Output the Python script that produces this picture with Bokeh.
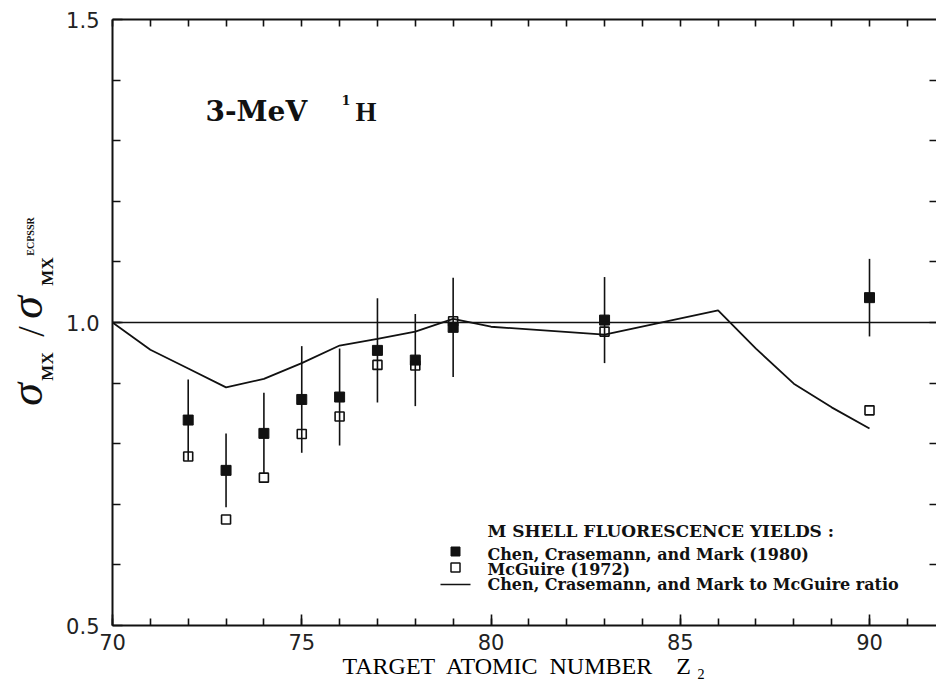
from math import pi

import numpy as np
from bokeh.plotting import figure
from bokeh.layouts import row
from bokeh.models import Range1d, FixedTicker, LinearAxis, Label, Span
from bokeh.embed import file_html
from bokeh.resources import INLINE

# ---- data -------------------------------------------------------------
# measured M-shell X-ray cross sections divided by ECPSSR predictions
z_measured = [72, 73, 74, 75, 76, 77, 78, 79, 83, 90]
ratio_chen = [0.839, 0.756, 0.817, 0.873, 0.877, 0.954, 0.938, 0.992, 1.004, 1.041]
chen_error = [0.067, 0.061, 0.067, 0.088, 0.080, 0.086, 0.076, 0.082, 0.071, 0.064]
ratio_mcguire = [0.779, 0.675, 0.744, 0.816, 0.845, 0.930, 0.929, 1.002, 0.985, 0.855]

# ratio of the two fluorescence-yield sets
z_yield = [70, 71, 72, 73, 74, 75, 76, 77, 78, 79, 80, 83, 86, 87, 88, 89, 90]
yield_ratio = [1.000, 0.955, 0.924, 0.893, 0.907, 0.933, 0.962, 0.973, 0.985,
               1.006, 0.993, 0.980, 1.020, 0.957, 0.899, 0.860, 0.825]

x_major = [70, 75, 80, 85, 90]
x_minor = list(range(70, 92))
y_major = [0.5, 1.0, 1.5]
y_minor = [0.6, 0.7, 0.8, 0.9, 1.0, 1.1, 1.2, 1.3, 1.4]
y_tick_text = {0.5: "0.5", 1.0: "1.0", 1.5: "1.5"}

NB = "\u00a0"
x_title = f"TARGET{NB} ATOMIC{NB} NUMBER{NB}{NB}{NB} Z{NB}\u2082"
legend_title = "M  SHELL  FLUORESCENCE  YIELDS  :"
legend_labels = ["Chen, Crasemann, and Mark (1980)",
                 "McGuire (1972)",
                 "Chen, Crasemann, and Mark to McGuire ratio"]

# ---- geometry (page pixels) ---------------------------------------------
W, H = 936, 684
LW = 56                                      # strip holding the y title
FL, FR, FT, FB = 112, 936, 19, 625          # plot frame edges
X0, PX_PER_Z = 70.0, 37.85
X1 = X0 + (FR - FL) / PX_PER_Z
Y0, Y1 = 0.5, 1.5
INK = "#111111"


def dx(px):
    return X0 + (px - FL) / PX_PER_Z


def dy(py):
    return Y1 - (py - FT) * (Y1 - Y0) / (FB - FT)


p = figure(width=W - LW, height=H, x_range=Range1d(X0, X1), y_range=Range1d(Y0, Y1),
           output_backend="svg", toolbar_location=None,
           min_border_left=FL - LW, min_border_right=W - FR,
           min_border_top=FT, min_border_bottom=H - FB)
p.outline_line_color = None
p.background_fill_color = "white"
p.border_fill_color = "white"
p.xgrid.visible = False
p.ygrid.visible = False


def style_axis(ax, major, minor, major_len, minor_len):
    ax.ticker = FixedTicker(ticks=major, minor_ticks=minor)
    ax.axis_line_color = INK
    ax.axis_line_width = 2
    ax.major_tick_in = major_len
    ax.major_tick_out = 0
    ax.minor_tick_in = minor_len
    ax.minor_tick_out = 0
    ax.major_tick_line_color = INK
    ax.minor_tick_line_color = INK
    ax.major_tick_line_width = 1.6
    ax.minor_tick_line_width = 1.6
    ax.major_label_text_font = "DejaVu Sans"
    ax.major_label_text_font_size = "21px"
    ax.major_label_text_color = "#222222"


xb = p.xaxis[0]
style_axis(xb, x_major, x_minor, 11, 7)
xb.major_label_standoff = 8
xb.axis_label = x_title
xb.axis_label_text_font = "Liberation Serif"
xb.axis_label_text_font_style = "normal"
xb.axis_label_text_font_size = "24px"
xb.axis_label_text_color = "black"
xb.axis_label_standoff = 0

yl = p.yaxis[0]
style_axis(yl, y_major, y_minor, 10, 8)
yl.major_label_standoff = 13
yl.major_label_overrides = y_tick_text
yl.axis_label = None

# tick-only frame edges on top and right
xt = LinearAxis()
style_axis(xt, [], x_minor, 7, 7)
xt.major_label_standoff = 0
p.add_layout(xt, "above")

yr = LinearAxis()
style_axis(yr, [], y_minor, 7, 7)
yr.axis_line_alpha = 0
yr.major_label_standoff = 0
p.add_layout(yr, "right")

# ---- marks ---------------------------------------------------------------
p.add_layout(Span(location=1.0, dimension="width", line_color=INK, line_width=1.6))

p.line(z_yield, yield_ratio, line_color=INK, line_width=1.8)

chen = np.array(ratio_chen)
err = np.array(chen_error)
p.segment(x0=z_measured, y0=chen - err, x1=z_measured, y1=chen + err,
          line_color=INK, line_width=1.6)

p.scatter(z_measured, ratio_mcguire, marker="square", size=9,
          fill_alpha=0, line_color=INK, line_width=1.6)
p.scatter(z_measured, ratio_chen, marker="square", size=10,
          fill_color=INK, line_color=INK, line_width=1)


# ---- texts inside the frame ----------------------------------------------
def add_text(px, py, text, size, font="DejaVu Serif", style="bold"):
    p.add_layout(Label(x=dx(px), y=dy(py), text=text, text_font=font,
                       text_font_style=style, text_font_size=f"{size}px",
                       text_align="left", text_baseline="alphabetic",
                       text_color=INK))


# beam label
add_text(205, 111, "3-MeV", 28)
add_text(341, 99, "1", 13)
add_text(355, 111, "H", 27, font="Liberation Serif")

# legend
add_text(487, 530, legend_title, 17)
for i, lab in enumerate(legend_labels):
    add_text(487, 554 + 15 * i, lab, 16)
p.scatter([dx(455)], [dy(551)], marker="square", size=9,
          fill_color=INK, line_color=INK)
p.scatter([dx(455)], [dy(567)], marker="square", size=9,
          fill_alpha=0, line_color=INK, line_width=1.5)
p.line([dx(440), dx(470)], [dy(584), dy(584)], line_color=INK, line_width=1.5)

# ---- y title strip ---------------------------------------------------------
# The row aligns this strip's frame with the plot frame (FT..FB), so its
# y range is set so that y = H - page_pixel_row.
t = figure(width=LW, height=H, x_range=Range1d(0, LW), y_range=Range1d(H - FB, H - FT),
           output_backend="svg", toolbar_location=None,
           x_axis_location=None, y_axis_location=None, min_border=0)
t.outline_line_color = None
t.background_fill_color = "white"
t.border_fill_color = "white"
t.xgrid.visible = False
t.ygrid.visible = False


def add_title_piece(cx, cy, text, size, style):
    """Rotated piece of the y title, centred on page pixel (cx, cy)."""
    t.add_layout(Label(x=cx, y=H - cy, text=text, text_font="Liberation Serif",
                       text_font_style=style, text_font_size=f"{size}px",
                       text_align="center", text_baseline="middle",
                       angle=pi / 2, text_color=INK))


add_title_piece(26, 394, "σ", 46, "italic")
add_title_piece(47, 366, "MX", 17, "bold")
add_title_piece(30, 331, "/", 38, "normal")
add_title_piece(26, 307, "σ", 46, "italic")
add_title_piece(47, 271, "MX", 17, "bold")
add_title_piece(30, 236, "ECPSSR", 10, "bold")

layout = row(t, p)
open("out.html", "w").write(file_html(layout, INLINE))
